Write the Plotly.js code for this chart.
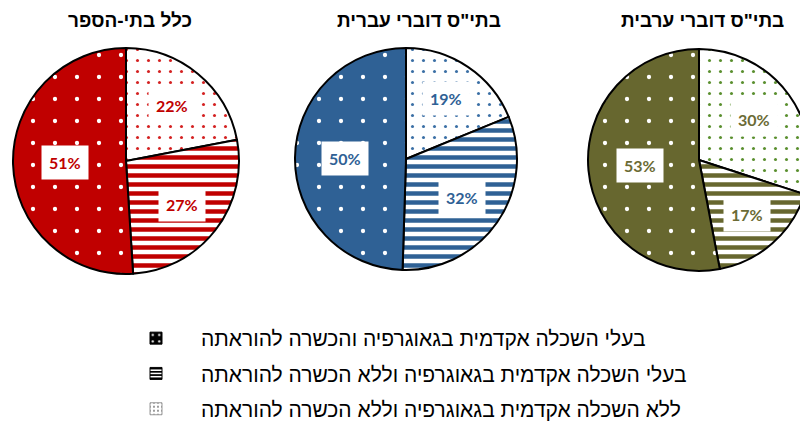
<!DOCTYPE html>
<html>
<head>
<meta charset="utf-8">
<script src="https://cdn.plot.ly/plotly-3.0.1.min.js"></script>
<style>
html,body{margin:0;padding:0;overflow:hidden;background:#fff;}
#chart{width:815px;height:421px;}
</style>
</head>
<body>
<div id="chart"></div>
<script>
// ---- data ----
const categories = [
  'ללא השכלה אקדמית בגאוגרפיה וללא הכשרה להוראתה',
  'בעלי השכלה אקדמית בגאוגרפיה וללא הכשרה להוראתה',
  'בעלי השכלה אקדמית בגאוגרפיה והכשרה להוראתה'
];
const pieTitles = ['כלל בתי-הספר', 'בתי"ס דוברי עברית', 'בתי"ס דוברי ערבית'];
const allSchools = [22, 27, 51];
const hebrewSchools = [19, 32, 50];
const arabicSchools = [30, 17, 53];
const legendOrder = [2, 1, 0];

// ---- styling ----
const W = 815, H = 421;
const seriesValues = [allSchools, hebrewSchools, arabicSchools];
const mainColors = ['#C00000', '#2F6195', '#67672F'];
const lightDotColors = ['#D42020', '#3A6FA5', '#5A8F2E'];
const labelColors = ['#C00000', '#2F6195', '#6B6B35'];
// domains in px: [x0,x1,y0(top),y1(bottom)]
const domainsPx = [
  [13, 239, 48, 274],
  [295, 517, 48, 270],
  [588, 810, 49, 271]
];
const titleX = [130, 419, 702];

const data = [];
const annotations = [];

seriesValues.forEach((vals, i) => {
  const d = domainsPx[i];
  const c = mainColors[i];
  data.push({
    type: 'pie',
    values: vals,
    labels: categories,
    sort: false,
    direction: 'clockwise',
    rotation: 0,
    textinfo: 'none',
    hoverinfo: 'label+percent',
    showlegend: false,
    domain: {x: [d[0] / W, d[1] / W], y: [1 - d[3] / H, 1 - d[2] / H]},
    marker: {
      colors: ['white', 'white', c],
      line: {color: 'black', width: 2},
      pattern: {
        shape: ['.', '-', '.'],
        fillmode: 'replace',
        bgcolor: ['white', 'white', c],
        fgcolor: [lightDotColors[i], c, 'white'],
        size: [11, 9, 22],
        solidity: [0.06, 0.5, 0.03]
      }
    }
  });

  // title
  annotations.push({
    xref: 'paper', yref: 'paper',
    x: titleX[i] / W, y: 1 - 20 / H,
    xanchor: 'center', yanchor: 'middle',
    text: pieTitles[i], showarrow: false,
    font: {family: 'Liberation Sans, DejaVu Sans, sans-serif', size: 19, weight: 'bold', color: '#000'}
  });

  // percent labels placed at slice mid-angles
  const total = vals.reduce((a, b) => a + b, 0);
  const cx = (d[0] + d[1]) / 2, cy = (d[2] + d[3]) / 2;
  const R = Math.min(d[1] - d[0], d[3] - d[2]) / 2;
  let cum = 0;
  vals.forEach(v => {
    const frac = v / total;
    const mid = (cum + v / 2) / total * 2 * Math.PI;
    cum += v;
    const rl = (0.72 - 0.35 * frac) * R;
    const px = cx + rl * Math.sin(mid);
    const py = cy - rl * Math.cos(mid);
    annotations.push({
      xref: 'paper', yref: 'paper',
      x: px / W, y: 1 - py / H,
      xanchor: 'center', yanchor: 'middle',
      text: Math.round(frac * 100) + '%',
      showarrow: false,
      bgcolor: 'white',
      borderpad: 7,
      font: {family: 'Lato, Liberation Sans, sans-serif', size: 16, weight: 'bold', color: labelColors[i]}
    });
  });
});

// legend entries (black pattern swatches)
const legendPatterns = {
  2: {color: 'black', pattern: {shape: '.', fillmode: 'replace', bgcolor: 'black', fgcolor: 'white', size: 8, solidity: 0.1}, line: {color: 'black', width: 1}},
  1: {color: 'black', pattern: {shape: '-', fillmode: 'replace', bgcolor: 'white', fgcolor: 'black', size: 4, solidity: 0.5}, line: {color: 'black', width: 1}},
  0: {color: 'white', pattern: {shape: '.', fillmode: 'replace', bgcolor: 'white', fgcolor: 'black', size: 5, solidity: 0.1}, line: {color: '#999', width: 1}}
};
legendOrder.forEach((k, j) => {
  data.push({
    type: 'bar',
    x: [null], y: [null],
    name: categories[k],
    legendgroup: 'g' + j,
    marker: legendPatterns[k],
    showlegend: true,
    hoverinfo: 'skip'
  });
});

const layout = {
  width: W, height: H,
  margin: {l: 0, r: 0, t: 0, b: 0, autoexpand: false},
  paper_bgcolor: 'white',
  plot_bgcolor: 'white',
  xaxis: {visible: false, fixedrange: true},
  yaxis: {visible: false, fixedrange: true},
  showlegend: true,
  legend: {
    x: 111 / W, y: 1 - 318 / H,
    xanchor: 'left', yanchor: 'top',
    traceorder: 'grouped',
    tracegroupgap: 5,
    itemwidth: 80,
    font: {family: 'Liberation Sans, DejaVu Sans, sans-serif', size: 21, color: '#000'},
    bgcolor: 'rgba(0,0,0,0)'
  },
  annotations: annotations
};

Plotly.newPlot('chart', data, layout, {displayModeBar: false, staticPlot: true});
</script>
</body>
</html>
